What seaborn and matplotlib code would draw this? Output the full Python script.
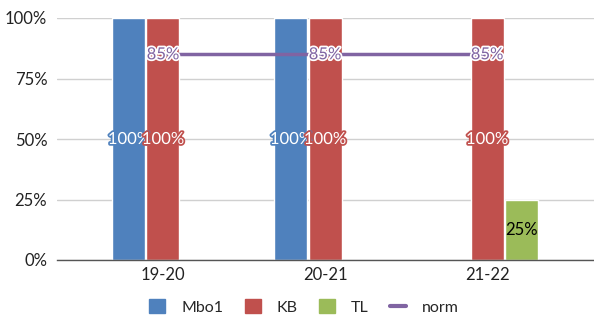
import numpy as np
import pandas as pd
import matplotlib
matplotlib.use("Agg")
import matplotlib.pyplot as plt
import matplotlib.patheffects as pe
from matplotlib.patches import Patch
from matplotlib.lines import Line2D
import seaborn as sns

seasons = ["19-20", "20-21", "21-22"]
mbo1 = [1.00, 1.00, np.nan]
kb = [1.00, 1.00, 1.00]
tl = [np.nan, np.nan, 0.25]
norm = [0.85, 0.85, 0.85]

series = ["Mbo1", "KB", "TL"]
colors = {"Mbo1": "#4F81BD", "KB": "#C0504D", "TL": "#9BBB59"}
norm_color = "#8064A2"

df = pd.DataFrame({
    "season": seasons * 3,
    "series": ["Mbo1"] * 3 + ["KB"] * 3 + ["TL"] * 3,
    "value": mbo1 + kb + tl,
})

sns.set_style("white")
plt.rcParams["font.family"] = ["Lato", "DejaVu Sans"]
fs = 12

fig = plt.figure(figsize=(5.94, 3.18), dpi=100)
ax = fig.add_axes([57 / 594, 58 / 318, 537 / 594, 242 / 318])

sns.barplot(data=df, x="season", y="value", hue="series", hue_order=series,
            palette=colors, width=0.63, gap=0.03, saturation=1, ax=ax,
            legend=False, errorbar=None)

x = np.arange(len(seasons))
ax.plot(x, norm, color=norm_color, lw=2.5, zorder=3)

outline = 2.5
for i, v in enumerate(norm):
    ax.text(i, v, f"{v:.0%}", ha="center", va="center", fontsize=fs,
            color=norm_color, zorder=4,
            path_effects=[pe.withStroke(linewidth=outline, foreground="white")])

offs = {"Mbo1": -0.21, "KB": 0.0, "TL": 0.21}
for name, vals in zip(series, [mbo1, kb, tl]):
    for i, v in enumerate(vals):
        if np.isnan(v):
            continue
        if v >= 0.5:
            ax.text(i + offs[name], v / 2, f"{v:.0%}", ha="center", va="center",
                    fontsize=fs, color="white", zorder=4,
                    path_effects=[pe.withStroke(linewidth=outline, foreground=colors[name])])
        else:
            ax.text(i + offs[name], v / 2, f"{v:.0%}", ha="center", va="center",
                    fontsize=fs, color="black", zorder=4)

ax.set_xlim(-0.654, 2.66)
ax.set_ylim(0, 1)
ax.set_yticks([0, 0.25, 0.5, 0.75, 1.0])
ax.set_yticklabels(["0%", "25%", "50%", "75%", "100%"])
ax.yaxis.grid(True, color="#D0D0D0", lw=1)
ax.set_axisbelow(True)
ax.set_xlabel("")
ax.set_ylabel("")
ax.tick_params(axis="both", length=0, labelsize=fs, colors="#222222")
ax.tick_params(axis="y", pad=7)
ax.tick_params(axis="x", pad=5)
for s in ["top", "right", "left"]:
    ax.spines[s].set_visible(False)
ax.spines["bottom"].set_color("#555555")
ax.spines["bottom"].set_linewidth(1)

handles = [Patch(color=colors[s], label=s) for s in series]
handles.append(Line2D([0], [0], color=norm_color, lw=3, label="norm"))
fig.legend(handles=handles, loc="center", bbox_to_anchor=(0.512, 1 - 307 / 318),
           ncol=4, frameon=False, fontsize=11.5, handlelength=1.0, handleheight=1.0,
           columnspacing=1.35, handletextpad=1.0)

fig.savefig("out.png", dpi=100)
